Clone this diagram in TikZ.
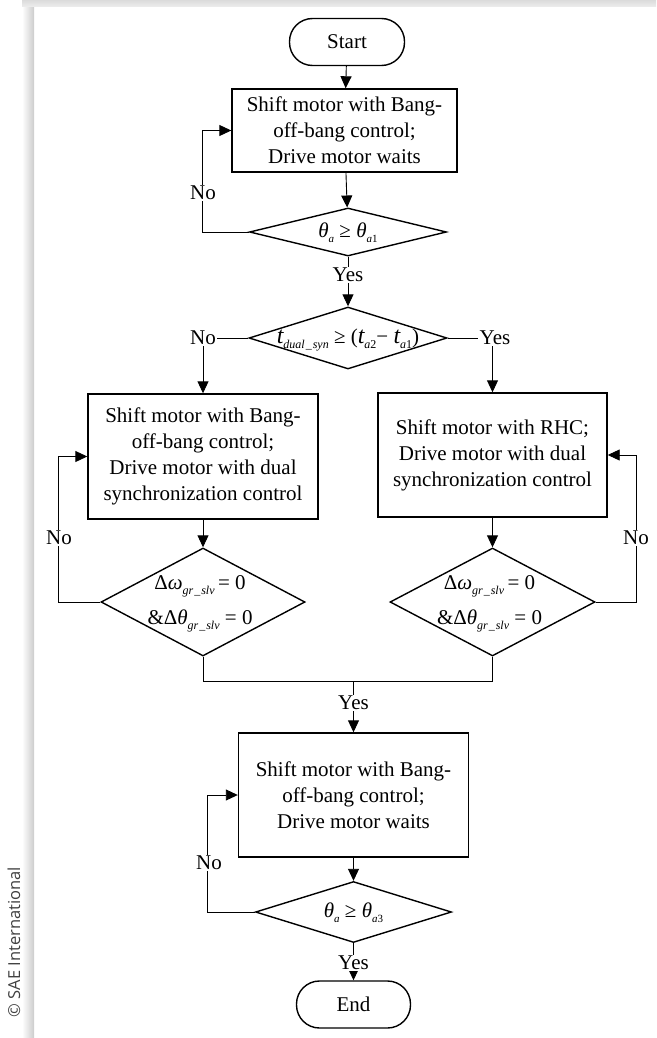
\documentclass[tikz,border=0pt]{standalone}
\usepackage{fontspec}
\setmainfont{Liberation Serif}
\newfontfamily\wmfont{Open Sans}
\usetikzlibrary{arrows.meta,shapes.geometric}
\newcommand{\sbs}[1]{\raisebox{-0.55ex}{\fontsize{12}{12}\selectfont\itshape #1}}
\newcommand{\sbt}[1]{\raisebox{-0.55ex}{\fontsize{11}{11}\selectfont\itshape #1}}
\begin{document}
\begin{tikzpicture}[x=1pt,y=-1pt,
  every node/.style={font=\fontsize{21}{26}\selectfont},
  termbox/.style={draw, line width=1.4pt, rounded corners=23pt, minimum width=115pt, minimum height=47pt, inner sep=0pt},
  procbox/.style={draw, line width=1.4pt, inner sep=0pt, align=center},
  decis/.style={draw, diamond, line width=1.4pt, inner sep=0pt},
  conn/.style={line width=0.9pt},
  arr/.style={conn, -{Triangle[length=12pt,width=11pt]}},
  lbl/.style={fill=white, inner sep=1.5pt}]
\useasboundingbox (0,0) rectangle (656,1038);
% page shadow
\shade[left color=white, right color=black!20] (22,7) rectangle (34,1038);
\shade[top color=black!14, bottom color=black!7] (22,0) rectangle (656,7);
% nodes
\node[termbox] (start) at (347,42) {Start};
\node[procbox, minimum width=225pt, minimum height=83pt] (b1) at (344.5,130.5) {Shift motor with Bang-\\off-bang control;\\Drive motor waits};
\node[decis, minimum width=197pt, minimum height=48pt] (d1) at (348,232) {};
\node (t1) at (348,233) {\itshape θ\sbt{a} \upshape≥ \itshape θ\sbt{a\upshape 1}};
\node[decis, minimum width=198pt, minimum height=62pt] (d2) at (348,338) {};
\node (t2) at (348,340) {{\fontsize{24}{24}\selectfont\itshape t}\sbs{dual\kern1pt\_\kern1pt syn} ≥ ({\fontsize{24}{24}\selectfont\itshape t}\sbs{a\upshape 2}− {\fontsize{24}{24}\selectfont\itshape t}\sbs{a\upshape 1})};
\node[procbox, minimum width=230pt, minimum height=125pt] (b2) at (203,456.5) {Shift motor with Bang-\\off-bang control;\\Drive motor with dual\\synchronization control};
\node[procbox, minimum width=229pt, minimum height=124pt] (b3) at (492.5,455) {Shift motor with RHC;\\Drive motor with dual\\synchronization control};
\node[decis, minimum width=204pt, minimum height=108pt] (d3) at (203,602) {};
\node[align=center, font=\fontsize{21}{35}\selectfont] (t3) at (200,604) {Δ\textit{ω}\sbs{gr\kern1pt\_\kern1pt slv}\,= 0\\\&Δ\textit{θ}\sbs{gr\kern1pt\_\kern1pt slv} = 0};
\node[decis, minimum width=205pt, minimum height=108pt] (d4) at (492.5,602) {};
\node[align=center, font=\fontsize{21}{35}\selectfont] (t4) at (489.5,604) {Δ\textit{ω}\sbs{gr\kern1pt\_\kern1pt slv}\,= 0\\\&Δ\textit{θ}\sbs{gr\kern1pt\_\kern1pt slv} = 0};
\coordinate (m) at (353.5,681);
\node[procbox, minimum width=230pt, minimum height=124pt] (b4) at (353.5,795) {Shift motor with Bang-\\off-bang control;\\Drive motor waits};
\node[decis, minimum width=196pt, minimum height=61pt] (d5) at (353.5,912) {};
\node (t5) at (353.5,913) {\itshape θ\sbt{a} \upshape≥ \itshape θ\sbt{a\upshape 3}};
\node[termbox, minimum width=114pt] (end) at (353.5,1004.5) {End};
% connectors
\draw[arr] (start) -- (b1);
\draw[arr] (b1) -- (d1);
\draw[arr] (d1.west) -- ++(-46.5,0) |- (b1.west);
\node[lbl] (no1) at (203,193) {No};
\draw[arr] (d1.south) -- (d2.north);
\node[lbl] (yes1) at (348,275) {Yes};
\draw[arr] (d2.west) -| (b2.north);
\node[lbl] (no2) at (203,338) {No};
\draw[arr] (d2.east) -| (b3.north);
\node[lbl] (yes2) at (495,338) {Yes};
\draw[arr] (b2) -- (d3);
\draw[arr] (b3) -- (d4);
\draw[arr] (d3.west) -- ++(-42,0) |- (b2.west);
\node[lbl] (no3) at (59,538) {No};
\draw[arr] (d4.east) -- ++(41,0) |- (b3.east);
\node[lbl] (no4) at (636,538) {No};
\draw[conn] (d3.south) -- (d3.south |- m) -- (d4.south |- m) -- (d4.south);
\draw[arr] (m) -- (b4.north);
\node[lbl] (yes3) at (353.5,703) {Yes};
\draw[arr] (b4) -- (d5);
\draw[arr] (d5.west) -- ++(-47,0) |- (b4.west);
\node[lbl] (no5) at (209,863) {No};
\draw[arr] (d5.south) -- (end.north);
\node[lbl] (yes4) at (353.5,963) {Yes};
% watermark
\node[rotate=90, font=\wmfont\fontsize{16.5}{16.5}\selectfont, text=black!75] (wm) at (14,942) {© SAE International};
\end{tikzpicture}
\end{document}
